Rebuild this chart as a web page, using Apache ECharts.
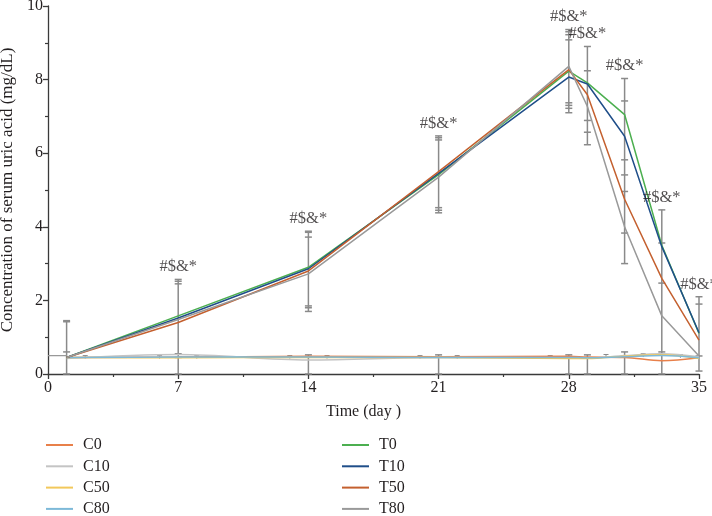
<!DOCTYPE html>
<html>
<head>
<meta charset="utf-8">
<script src="https://cdn.jsdelivr.net/npm/echarts@6/dist/echarts.min.js"></script>
<style>html,body{margin:0;padding:0;background:#fff}#c{width:712px;height:516px}</style>
</head>
<body>
<div id="c"></div>
<script>
// ---- data ----
const days = [1, 7, 14, 21, 28, 29, 31, 33, 35];
const C0  = [0.45, 0.46, 0.48, 0.47, 0.48, 0.46, 0.45, 0.36, 0.44];
const C10 = [0.42, 0.53, 0.38, 0.45, 0.44, 0.43, 0.50, 0.55, 0.47];
const C50 = [0.45, 0.44, 0.45, 0.45, 0.42, 0.42, 0.48, 0.52, 0.42];
const C80 = [0.45, 0.46, 0.46, 0.45, 0.45, 0.44, 0.47, 0.50, 0.44];
const T0  = [0.45, 1.58, 2.90, 5.42, 8.23, 7.91, 7.05, 3.50, 1.10];
const T10 = [0.45, 1.52, 2.86, 5.45, 8.07, 7.88, 6.46, 3.46, 1.12];
const T50 = [0.45, 1.40, 2.80, 5.50, 8.27, 7.59, 4.75, 2.60, 0.92];
const T80 = [0.45, 1.48, 2.72, 5.35, 8.36, 7.27, 4.00, 1.58, 0.49];
const baseDays = [0, 1];
const baseVals = [0.5, 0.5];

// error bars: day, low, high
const ebDay  = [1, 7, 14, 14, 21, 21, 28, 28, 29, 29, 31, 31, 33, 35];
const ebLow  = [0, 0, 1.70, 0, 4.38, 0, 7.10, 0, 6.23, 0, 3.00, 0, 0, 0.08];
const ebHigh = [1.45, 2.57, 3.88, 0.52, 6.47, 0.52, 9.36, 0.52, 8.90, 0.52, 8.03, 0.60, 4.46, 2.10];
// intermediate caps
const capDay = [1, 1, 7, 7, 7, 7, 14, 14, 14, 14, 21, 21, 21, 21, 28, 28, 28, 28, 28, 28, 29, 29, 29, 31, 31, 31, 31, 31, 33, 33, 33, 35, 35];
const capVal = [0.60, 1.42, 2.52, 2.45, 0.55, 0.45, 3.85, 3.72, 1.85, 1.80, 6.42, 6.36, 4.52, 4.45, 9.30, 9.22, 9.08, 7.37, 7.30, 7.22, 8.24, 6.89, 6.57, 7.42, 5.82, 5.41, 4.96, 3.83, 3.56, 2.47, 0.60, 1.90, 0.49];
// small control-group bars
const smallDay  = [2, 6, 8, 13, 15, 20, 22, 27, 30, 32, 34];
const smallLow  = [0.42, 0.42, 0.42, 0.42, 0.42, 0.42, 0.42, 0.42, 0.44, 0.46, 0.44];
const smallHigh = [0.50, 0.50, 0.50, 0.50, 0.50, 0.50, 0.50, 0.50, 0.53, 0.55, 0.53];
// significance annotations
const annDays = [7, 14, 21, 28, 29, 31, 33, 35];
const annText = '#$&*';

const names  = ['C0', 'C10', 'C50', 'C80', 'T0', 'T10', 'T50', 'T80'];
const values = [C0, C10, C50, C80, T0, T10, T50, T80];
const colors = ['#E8804A', '#C4C4C4', '#F2C85B', '#7DB9D8', '#4CAF50', '#1F4E89', '#C4602F', '#999999'];

const FONT = "'Liberation Serif', 'Times New Roman', serif";
const TXT = '#231f20';
const AX = '#3a3a3a';
const EB = '#8a8a8a';

const pair = (xs, ys) => xs.map((x, i) => [x, ys[i]]);

const lineSeries = names.map((n, i) => ({
  name: n,
  type: 'line',
  data: pair(days, values[i]),
  symbol: 'none',
  smooth: i < 4 ? 0.35 : false,
  lineStyle: { color: colors[i], width: 1.5 },
  itemStyle: { color: colors[i] },
  z: 3 + i * 0.1
}));

function barItem(params, api) {
  const x = api.value(0), lo = api.value(1), hi = api.value(2);
  const p1 = api.coord([x, lo]), p2 = api.coord([x, hi]);
  const w = 3.5;
  const st = { stroke: EB, lineWidth: 1.5 };
  return {
    type: 'group',
    children: [
      { type: 'line', shape: { x1: p1[0], y1: p1[1], x2: p2[0], y2: p2[1] }, style: st },
      { type: 'line', shape: { x1: p1[0] - w, y1: p1[1], x2: p1[0] + w, y2: p1[1] }, style: st },
      { type: 'line', shape: { x1: p2[0] - w, y1: p2[1], x2: p2[0] + w, y2: p2[1] }, style: st }
    ]
  };
}
function smallBarItem(params, api) {
  const x = api.value(0), lo = api.value(1), hi = api.value(2);
  const p1 = api.coord([x, lo]), p2 = api.coord([x, hi]);
  const w = 2.5;
  const st = { stroke: EB, lineWidth: 1 };
  return {
    type: 'group',
    children: [
      { type: 'line', shape: { x1: p1[0], y1: p1[1], x2: p2[0], y2: p2[1] }, style: st },
      { type: 'line', shape: { x1: p2[0] - w, y1: p2[1], x2: p2[0] + w, y2: p2[1] }, style: st }
    ]
  };
}
function capItem(params, api) {
  const p = api.coord([api.value(0), api.value(1)]);
  const w = 3.5;
  return { type: 'line', shape: { x1: p[0] - w, y1: p[1], x2: p[0] + w, y2: p[1] }, style: { stroke: EB, lineWidth: 1.5 } };
}

const annData = annDays.map(d => {
  let m = -Infinity;
  ebDay.forEach((x, i) => { if (x === d) m = Math.max(m, ebHigh[i]); });
  return [d, m];
});

const legendCommon = {
  orient: 'vertical',
  top: 437,
  height: 100,
  padding: 0,
  itemWidth: 27,
  itemHeight: 2,
  itemGap: 5.3,
  icon: 'rect',
  textStyle: { fontFamily: FONT, fontSize: 16, color: TXT, lineHeight: 14, padding: [0, 0, 0, 5] }
};

const option = {
  animation: false,
  backgroundColor: '#fff',
  grid: { left: 48, right: 13, top: 6, bottom: 142, containLabel: false, outerBoundsMode: 'none' },
  legend: [
    Object.assign({}, legendCommon, { left: 46, data: names.slice(0, 4) }),
    Object.assign({}, legendCommon, { left: 342, data: names.slice(4) })
  ],
  xAxis: {
    type: 'value', min: 0, max: 35, interval: 7,
    name: 'Time (day )', nameLocation: 'middle', nameGap: 30,
    nameTextStyle: { fontFamily: FONT, fontSize: 16, color: TXT, padding: [0, 20, 0, 0] },
    axisLine: { show: true, onZero: false, lineStyle: { color: AX, width: 1.3 } },
    axisTick: { show: true, length: 5, lineStyle: { color: AX, width: 1.3 } },
    minorTick: { show: true, splitNumber: 2, length: 3, lineStyle: { color: AX, width: 1.2 } },
    axisLabel: { fontFamily: FONT, fontSize: 16, color: TXT, margin: 6 },
    splitLine: { show: false }
  },
  yAxis: {
    type: 'value', min: 0, max: 10, interval: 2,
    name: 'Concentration of serum uric acid (mg/dL)', nameLocation: 'middle', nameGap: 26, nameRotate: 90,
    nameTextStyle: { fontFamily: FONT, fontSize: 17, color: TXT },
    axisLine: { show: true, onZero: false, lineStyle: { color: AX, width: 1.3 } },
    axisTick: { show: true, length: 5, lineStyle: { color: AX, width: 1.3 } },
    minorTick: { show: true, splitNumber: 2, length: 3, lineStyle: { color: AX, width: 1.2 } },
    axisLabel: { fontFamily: FONT, fontSize: 16, color: TXT, margin: 5 },
    splitLine: { show: false }
  },
  series: [
    {
      type: 'custom', renderItem: barItem, z: 2, silent: true,
      encode: { x: 0, y: [1, 2] },
      data: ebDay.map((d, i) => [d, ebLow[i], ebHigh[i]])
    },
    {
      type: 'custom', renderItem: smallBarItem, z: 2, silent: true,
      encode: { x: 0, y: [1, 2] },
      data: smallDay.map((d, i) => [d, smallLow[i], smallHigh[i]])
    },
    {
      type: 'custom', renderItem: capItem, z: 2, silent: true,
      encode: { x: 0, y: 1 },
      data: pair(capDay, capVal)
    },
    {
      type: 'line', data: pair(baseDays, baseVals), symbol: 'none',
      lineStyle: { color: '#999999', width: 1.3 }, z: 2, silent: true
    },
    ...lineSeries,
    {
      type: 'scatter', data: annData, symbolSize: 0, silent: true, z: 5,
      label: {
        show: true, position: 'top', distance: 4, formatter: annText,
        fontFamily: FONT, fontSize: 16.5, color: TXT
      }
    }
  ]
};

const chart = echarts.init(document.getElementById('c'), null, { renderer: 'canvas' });
chart.setOption(option);
</script>
</body>
</html>
